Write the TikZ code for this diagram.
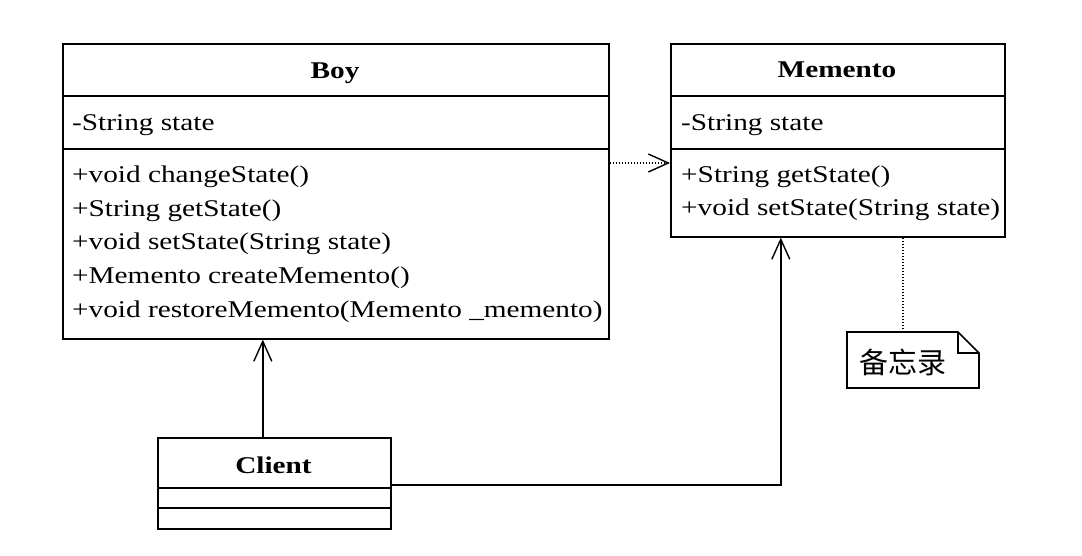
\documentclass[tikz,border=0pt]{standalone}
\usepackage{fontspec}
\setmainfont{Liberation Serif}[FakeStretch=1.22]
\newfontfamily\cjk{Noto Sans CJK SC}
\usetikzlibrary{arrows.meta}
\tikzset{
  classbox/.style={draw, line width=1.6pt, anchor=north west, inner sep=0pt},
  member/.style={anchor=base west, inner sep=0pt},
  title/.style={anchor=base, inner sep=0pt, font=\fontsize{24}{30}\selectfont\bfseries},
  assoc/.style={line width=1.4pt, -{Straight Barb[length=20pt,width=18pt,line width=1.4pt]}},
  dep/.style={line width=1.4pt, dash pattern=on 1.5pt off 1.5pt, -{Straight Barb[length=20pt,width=18pt,line width=1.4pt]}},
  notelink/.style={line width=1.4pt, dash pattern=on 1.5pt off 1.5pt}
}
\begin{document}
\begin{tikzpicture}[x=1pt,y=-1pt,font=\fontsize{24}{30}\selectfont]
\useasboundingbox (0,0) rectangle (1082,556);
\node[classbox, minimum width=546pt, minimum height=295pt] (boy) at (62,43) {};
\draw[line width=1.6pt] (62,96) -- (608,96);
\draw[line width=1.6pt] (62,149) -- (608,149);
\node[title] (boyname) at (335,79) {Boy};
\node[member] (boyattr) at (72,131) {-String state};
\node[member] (boym1) at (72,183) {+void changeState()};
\node[member] (boym2) at (72,216.5) {+String getState()};
\node[member] (boym3) at (72,250) {+void setState(String state)};
\node[member] (boym4) at (72,283.5) {+Memento createMemento()};
\node[member] (boym5) at (72,317) {+void restoreMemento(Memento \_memento)};
\node[classbox, minimum width=334pt, minimum height=193pt] (memento) at (670,43) {};
\draw[line width=1.6pt] (670,96) -- (1004,96);
\draw[line width=1.6pt] (670,149) -- (1004,149);
\node[title] (mementoname) at (837,78) {Memento};
\node[member] (mementoattr) at (681,131) {-String state};
\node[member] (mementom1) at (681,183) {+String getState()};
\node[member] (mementom2) at (681,216) {+void setState(String state)};
\node[classbox, minimum width=233pt, minimum height=91pt] (client) at (157,437) {};
\draw[line width=1.6pt] (157,488) -- (390,488);
\draw[line width=1.6pt] (157,508) -- (390,508);
\node[title] (clientname) at (273.5,473) {Client};
\draw[line width=1.6pt, fill=white] (847,332) -- (958,332) -- (979,353) -- (979,388) -- (847,388) -- cycle;
\draw[line width=1.6pt] (958,332) -- (958,353) -- (979,353);
\node[inner sep=0pt, font=\cjk\fontsize{29}{29}\selectfont] (memo) at (903,362) {备忘录};
\coordinate (notetop) at (903,332);
\draw[dep] (boy.east |- 0,163) -- (memento.west |- 0,163);
\draw[assoc] ([xshift=-11.5pt]client.north) -- ([xshift=-11.5pt]client.north |- boy.south);
\draw[assoc] ([yshift=-1.5pt]client.east) -| ([xshift=-57pt]memento.south);
\draw[notelink] (memento.south -| notetop) -- (notetop);
\end{tikzpicture}
\end{document}
